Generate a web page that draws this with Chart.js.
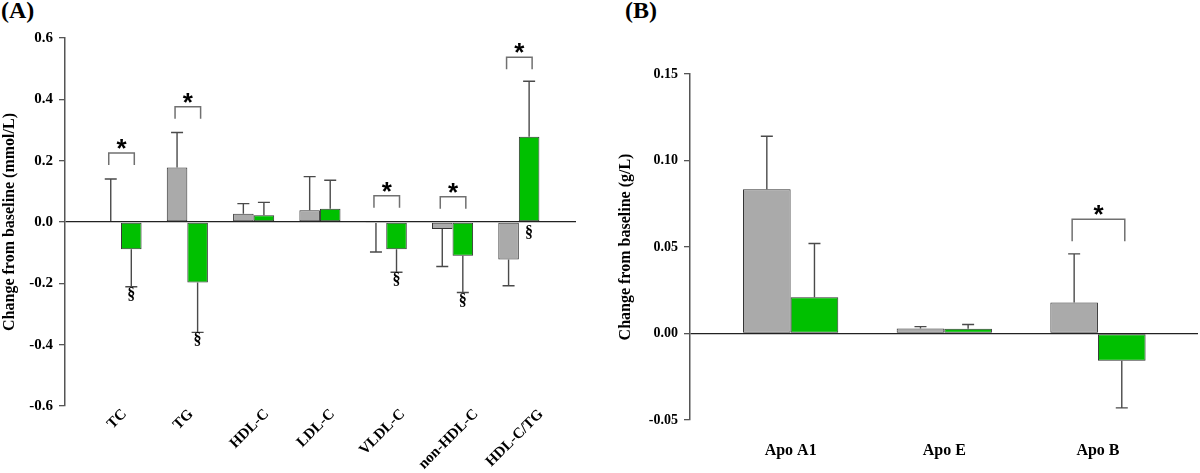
<!DOCTYPE html>
<html>
<head>
<meta charset="utf-8">
<script src="https://cdn.jsdelivr.net/npm/chart.js@4.4.0/dist/chart.umd.min.js"></script>
<style>
  body { margin: 0; background: #fff; width: 1200px; height: 473px; position: relative; overflow: hidden; }
  canvas { position: absolute; top: 0; }
  #chartA { left: 0; }
  #chartB { left: 590px; }
  .tag { position: absolute; top: -2px; font: bold 24px "Liberation Serif", serif; line-height: 24px; color: #000; }
</style>
</head>
<body>
<div class="tag" style="left:1px">(A)</div>
<div class="tag" style="left:625px">(B)</div>
<canvas id="chartA" width="590" height="473"></canvas>
<canvas id="chartB" width="610" height="473"></canvas>
<script>
// Panel A - lipids (mmol/L)
const labelsA = ["TC", "TG", "HDL-C", "LDL-C", "VLDL-C", "non-HDL-C", "HDL-C/TG"];
const grayA = [0.003, 0.178, 0.027, 0.038, -0.003, -0.023, -0.122];
const grayErrA = [0.137, 0.114, 0.033, 0.110, 0.095, 0.122, 0.086];
const greenA = [-0.089, -0.197, 0.022, 0.043, -0.089, -0.110, 0.278];
const greenErrA = [0.122, 0.163, 0.042, 0.093, 0.075, 0.120, 0.181];
const starA = [0.225, 0.376, null, null, 0.086, 0.082, 0.537]; // bracket height
const sectA = [true, true, false, false, true, true, true];    // § on green bar

// Panel B - apolipoproteins (g/L)
const labelsB = ["Apo A1", "Apo E", "Apo B"];
const grayB = [0.0834, 0.0029, 0.0179];
const grayErrB = [0.0306, 0.0011, 0.0281];
const greenB = [0.021, 0.0027, -0.0158];
const greenErrB = [0.031, 0.0025, 0.0272];
const starB = [null, null, 0.066];
const sectB = [false, false, false];

const SERIF = '"Liberation Serif", "Times New Roman", serif';
const GRAY = "#aaaaaa", GREEN = "#00c000", EDGE = "#333", LINE = "#4a4a4a";

function centerText(ctx, txt, x, y) {
  const m = ctx.measureText(txt);
  ctx.fillText(txt, x, y + (m.actualBoundingBoxAscent - m.actualBoundingBoxDescent) / 2);
}

// error bars, significance brackets, § marks and slanted category names
const marks = {
  id: "marks",
  afterDatasetsDraw(chart, args, o) {
    const ctx = chart.ctx, y = chart.scales.y;
    const g = chart.getDatasetMeta(0).data, n = chart.getDatasetMeta(1).data;
    ctx.save();
    ctx.strokeStyle = LINE;
    ctx.lineWidth = 1.4;
    chart.data.datasets.forEach((ds, d) => {
      chart.getDatasetMeta(d).data.forEach((bar, i) => {
        const v = ds.data[i].y, e = ds.err[i];
        const end = y.getPixelForValue(v < 0 ? v - e : v + e);
        ctx.beginPath();
        ctx.moveTo(bar.x, y.getPixelForValue(v));
        ctx.lineTo(bar.x, end);
        ctx.moveTo(bar.x - 6, end);
        ctx.lineTo(bar.x + 6, end);
        ctx.stroke();
      });
    });

    ctx.strokeStyle = "#707070";
    ctx.lineWidth = 1.5;
    ctx.fillStyle = "#000";
    ctx.textAlign = "center";
    o.star.forEach((s, i) => {
      if (s === null) return;
      const x1 = g[i].x - 2, x2 = n[i].x + 3, yt = y.getPixelForValue(s);
      ctx.beginPath();
      ctx.moveTo(x1, yt + o.leg);
      ctx.lineTo(x1, yt);
      ctx.lineTo(x2, yt);
      ctx.lineTo(x2, yt + o.leg);
      ctx.stroke();
      ctx.font = 'bold 26px "Liberation Sans", Arial, sans-serif';
      centerText(ctx, "*", (x1 + x2) / 2, yt - 9);
    });

    ctx.font = "bold 16px " + SERIF;
    o.sect.forEach((s, i) => {
      if (!s) return;
      const ds = chart.data.datasets[1], v = ds.data[i].y;
      const yy = v < 0 ? y.getPixelForValue(v - ds.err[i]) + 7 : y.getPixelForValue(0) + 10;
      centerText(ctx, "§", n[i].x, yy);
    });
    ctx.restore();
  },
  afterDraw(chart, args, o) {
    if (!o.angled) return;
    const ctx = chart.ctx, x = chart.scales.x;
    ctx.save();
    ctx.font = "bold 15px " + SERIF;
    ctx.fillStyle = "#000";
    ctx.textAlign = "center";
    ctx.textBaseline = "middle";
    o.labels.forEach((t, i) => {
      const half = (ctx.measureText(t).width + 11) * Math.SQRT1_2 / 2;
      ctx.save();
      ctx.translate(x.getPixelForTick(i) - 4, chart.chartArea.bottom + 2 + half);
      ctx.rotate(-Math.PI / 4);
      ctx.fillText(t, 0, 0);
      ctx.restore();
    });
    ctx.restore();
  }
};

const makeChart = (id, p) => new Chart(document.getElementById(id), {
  type: "bar",
  data: {
    datasets: [
      { data: p.gray.map((v, i) => ({ x: i + 1, y: v })), err: p.grayErr, backgroundColor: GRAY },
      { data: p.green.map((v, i) => ({ x: i + 1, y: v })), err: p.greenErr, backgroundColor: GREEN }
    ]
  },
  options: {
    responsive: false,
    animation: false,
    layout: { padding: { left: 0, right: p.right, top: p.top, bottom: 0 } },
    datasets: {
      bar: { categoryPercentage: 0.62, barPercentage: 1, borderColor: EDGE, borderWidth: 1, borderSkipped: false }
    },
    scales: {
      x: {
        type: "linear",
        offset: false,
        bounds: "data",
        min: p.xMin,
        max: p.xMax,
        afterBuildTicks: s => { s.ticks = p.labels.map((_, i) => ({ value: i + 1 })); },
        afterFit: s => { s.height = p.xHeight; },
        ticks: {
          display: !p.angled, autoSkip: false, includeBounds: false, maxRotation: 0, padding: p.xPad, color: "#000",
          font: { family: SERIF, size: p.xFont, weight: "bold" },
          callback: (v, i) => p.labels[i]
        },
        grid: { display: false, drawTicks: false, offset: false },
        border: { display: false }
      },
      y: {
        min: p.yMin,
        max: p.yMax,
        afterFit: s => { s.width = p.yWidth; },
        ticks: {
          stepSize: p.step, padding: 6, color: "#000",
          font: { family: SERIF, size: p.tickFont, weight: "bold" },
          callback: v => v.toFixed(p.dec)
        },
        grid: {
          color: c => Math.abs(c.tick.value) < 1e-9 ? "#222" : "rgba(0,0,0,0)",
          tickColor: "#555", tickLength: 6, lineWidth: 1.3
        },
        border: { display: true, color: "#555", width: 1.5 },
        title: {
          display: true, text: p.title, color: "#000", padding: { top: p.titlePad, bottom: 0 },
          font: { family: SERIF, size: 16, weight: "bold" }
        }
      }
    },
    plugins: {
      legend: { display: false },
      tooltip: { enabled: false },
      marks: { star: p.star, sect: p.sect, leg: p.leg, angled: p.angled, labels: p.labels }
    }
  },
  plugins: [marks]
});

makeChart("chartA", {
  labels: labelsA, gray: grayA, grayErr: grayErrA, green: greenA, greenErr: greenErrA,
  star: starA, sect: sectA, leg: 12, angled: true,
  xMin: 0.155, xMax: 7.862, xPad: 3, xFont: 15, xHeight: 67,
  yMin: -0.6, yMax: 0.6, step: 0.2, dec: 1, tickFont: 15, yWidth: 65,
  title: "Change from baseline (mmol/L)", titlePad: 0, top: 38, right: 14
});

makeChart("chartB", {
  labels: labelsB, gray: grayB, grayErr: grayErrB, green: greenB, greenErr: greenErrB,
  star: starB, sect: sectB, leg: 22, angled: false,
  xMin: 0.345, xMax: 3.651, xPad: 21, xFont: 16, xHeight: 53,
  yMin: -0.05, yMax: 0.15, step: 0.05, dec: 2, tickFont: 14, yWidth: 100,
  title: "Change from baseline (g/L)", titlePad: 26, top: 74, right: 2
});
</script>
</body>
</html>
